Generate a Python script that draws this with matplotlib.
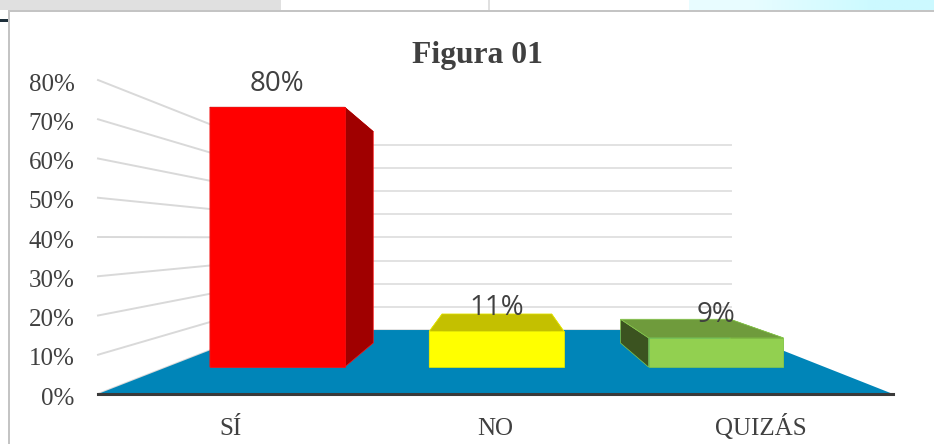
import matplotlib
matplotlib.use('Agg')
import matplotlib.pyplot as plt
import numpy as np
from matplotlib.patches import Polygon, Rectangle
from matplotlib.transforms import ScaledTranslation

categories = ['SÍ', 'NO', 'QUIZÁS']
values = [80, 11, 9]
value_labels = ['80%', '11%', '9%']
y_ticks = [0, 10, 20, 30, 40, 50, 60, 70, 80]

front_colors = ['#ff0000', '#ffff00', '#92d050']
side_colors = ['#a00000', '#c4c000', '#3b5320']
top_colors = ['#a00000', '#c4c000', '#6f9b3c']
edge_colors = ['#ff1010', '#e8e800', '#86c84a']
top_edge_colors = ['#a00000', '#e8e800', '#86c84a']
text_color = '#404040'

W, H = 934, 444
SHRINK = 0.41   # how much the back wall is smaller than the front plane
BAR_FRONT = 0.42
BAR_BACK = 0.797
BAR_HALF = 0.307
BAR_SHIFT = 0.003


def project(c, v, d):
    # category position, value and depth (0 front, 1 back) to front plane coords
    s = 1 - SHRINK * d
    return 0.619 * d + c * s, 16.3 * d + v * s


def px_rect(fig, x, y, w, h, color, z=0):
    fig.add_artist(Rectangle((x / W, 1 - (y + h) / H), w / W, h / H, color=color,
                             lw=0, transform=fig.transFigure, zorder=z))


fig = plt.figure(figsize=(W / 100, H / 100), dpi=100, facecolor='white')

# bits of the page around the chart
px_rect(fig, 0, 0, 281, 10, '#e0e0e0')
px_rect(fig, 488, 0, 2, 10, '#e0e0e0')
px_rect(fig, 0, 19, 8, 3, '#1d2f3a')
px_rect(fig, 8, 10, 926, 2, '#c4c4c4')
px_rect(fig, 8, 10, 2, 434, '#c4c4c4')
bg = fig.add_axes([689 / W, 1 - 10 / H, (W - 689) / W, 10 / H])
bg.imshow(np.array([[[0.91, 0.99, 1.0], [0.80, 0.98, 1.0]]]), aspect='auto', interpolation='bilinear')
bg.axis('off')

ax = fig.add_axes([98 / W, 1 - 394 / H, 795 / W, 314 / H])
ax.set_xlim(0, 3)
ax.set_ylim(0, 80)
ax.patch.set_alpha(0)

# walls
for t in y_ticks:
    p0 = project(0, t, 0)
    p1 = project(0, t, 1)
    p2 = project(3, t, 1)
    ax.plot([p0[0], p1[0]], [p0[1], p1[1]], color='#d9d9d9', lw=1.4, zorder=1, clip_on=False)
    ax.plot([p1[0], p2[0]], [p1[1], p2[1]], color='#e2e2e2', lw=1.4, zorder=1, clip_on=False)

# floor
floor = [project(0, 0, 0), project(3, 0, 0), project(3, 0, 1), project(0, 0, 1)]
ax.add_patch(Polygon(floor, closed=True, facecolor='#0085b8', edgecolor='none', zorder=2, clip_on=False))

# bars
for i, v in enumerate(values):
    c0 = i + 0.5 + BAR_SHIFT - BAR_HALF
    c1 = i + 0.5 + BAR_SHIFT + BAR_HALF
    for c in (c0, c1):
        side = [project(c, 0, BAR_FRONT), project(c, v, BAR_FRONT), project(c, v, BAR_BACK), project(c, 0, BAR_BACK)]
        ax.add_patch(Polygon(side, closed=True, facecolor=side_colors[i], edgecolor=edge_colors[i],
                             lw=0.5, zorder=3, clip_on=False))
    top = [project(c0, v, BAR_FRONT), project(c1, v, BAR_FRONT), project(c1, v, BAR_BACK), project(c0, v, BAR_BACK)]
    ax.add_patch(Polygon(top, closed=True, facecolor=top_colors[i], edgecolor=top_edge_colors[i],
                         lw=0.5, zorder=4, clip_on=False))
    front = [project(c0, 0, BAR_FRONT), project(c1, 0, BAR_FRONT), project(c1, v, BAR_FRONT), project(c0, v, BAR_FRONT)]
    ax.add_patch(Polygon(front, closed=True, facecolor=front_colors[i], edgecolor=edge_colors[i],
                         lw=0.5, zorder=5, clip_on=False))
    ax.annotate(value_labels[i], xy=project(i + 0.5 + BAR_SHIFT, v, BAR_FRONT), xytext=(0, 16.5), textcoords='offset points',
                ha='center', va='center', fontsize=20, color=text_color, family='Open Sans', zorder=6)

for name in ['top', 'left', 'right']:
    ax.spines[name].set_visible(False)
ax.spines['bottom'].set_color('#3a3a3a')
ax.spines['bottom'].set_linewidth(2.2)
ax.spines['bottom'].set_zorder(6)

ax.set_yticks(y_ticks)
ax.set_yticklabels([str(t) + '%' for t in y_ticks], family='Liberation Serif', fontsize=18, color=text_color)
ax.set_xticks(np.arange(len(categories)) + 0.5)
ax.set_xticklabels(categories, family='Liberation Serif', fontsize=18, color=text_color, va='baseline')
ax.tick_params(axis='y', length=0, pad=17)
ax.tick_params(axis='x', length=0, pad=29.5)

# the percent labels sit a little under their gridlines
nudge = ScaledTranslation(0, -1.5 / 72, fig.dpi_scale_trans)
for lab in ax.get_yticklabels():
    lab.set_transform(lab.get_transform() + nudge)

ax.set_title('Figura 01', family='Liberation Serif', fontweight='bold', fontsize=22.8, color=text_color,
             x=(477 - 98) / 795, y=1.053, pad=0)

fig.savefig('out.png', dpi=100)
